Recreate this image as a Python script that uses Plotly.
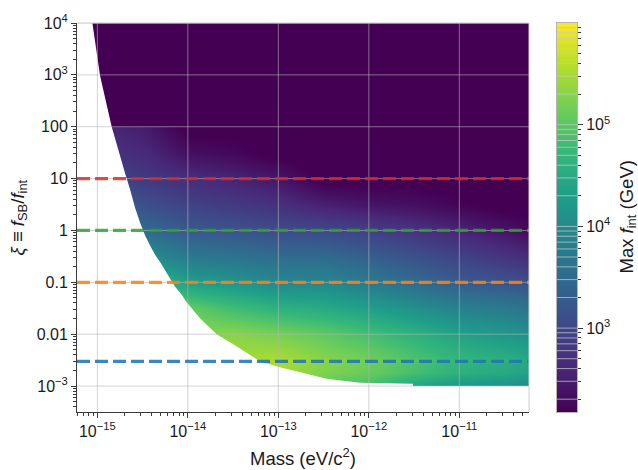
import numpy as np
import plotly.graph_objects as go

# ---------------------------------------------------------------------------
# Tabulated maximum interaction scale, log10(Max f_int / GeV)
# columns: log10(mass / eV), rows: log10(xi)
# ---------------------------------------------------------------------------
log10_mass = [-15.2, -14.8, -14.5, -14.0, -13.5, -13.0, -12.5, -12.0, -11.5, -11.0, -10.5, -10.2]
log10_xi = [-3.0, -2.75, -2.5, -2.0, -1.5, -1.0, -0.5, 0.0, 0.5, 1.0, 1.5, 2.0, 2.01, 4.0]

log10_fmax = [
    [4.85, 4.85, 4.85, 5.24, 5.24, 5.24, 5.01, 4.85, 4.39, 4.16, 4.09, 3.97],
    [4.85, 4.85, 4.85, 5.24, 5.39, 5.46, 5.24, 5.08, 4.85, 4.58, 4.47, 4.36],
    [4.85, 4.85, 4.85, 5.24, 5.46, 5.52, 5.31, 5.16, 4.93, 4.70, 4.58, 4.47],
    [4.85, 4.85, 4.85, 5.27, 5.31, 5.20, 5.04, 4.85, 4.62, 4.36, 4.20, 4.09],
    [4.85, 4.85, 4.85, 5.08, 4.81, 4.62, 4.51, 4.32, 4.09, 3.86, 3.74, 3.63],
    [4.85, 4.85, 4.85, 4.32, 4.16, 3.97, 3.94, 3.74, 3.51, 3.28, 3.17, 3.09],
    [4.09, 4.09, 4.09, 3.71, 3.63, 3.51, 3.48, 3.32, 3.13, 2.94, 2.75, 2.63],
    [3.71, 3.71, 3.48, 3.25, 3.17, 3.06, 3.02, 2.90, 2.75, 2.56, 2.37, 2.25],
    [3.32, 3.32, 3.13, 2.94, 2.83, 2.71, 2.52, 2.40, 2.33, 2.21, 2.10, 2.10],
    [2.94, 2.94, 2.83, 2.67, 2.56, 2.40, 2.10, 2.10, 2.10, 2.10, 2.10, 2.10],
    [2.71, 2.71, 2.63, 2.33, 2.25, 2.10, 2.10, 2.10, 2.10, 2.10, 2.10, 2.10],
    [2.56, 2.56, 2.48, 2.10, 2.10, 2.10, 2.10, 2.10, 2.10, 2.10, 2.10, 2.10],
    [2.10, 2.10, 2.10, 2.10, 2.10, 2.10, 2.10, 2.10, 2.10, 2.10, 2.10, 2.10],
    [2.10, 2.10, 2.10, 2.10, 2.10, 2.10, 2.10, 2.10, 2.10, 2.10, 2.10, 2.10],
]

# Edge of the allowed region (no solution to the left / below)
boundary_mass = [8.81e-16, 1.07e-15, 1.44e-15, 1.78e-15, 2.02e-15, 2.30e-15, 2.61e-15,
                 2.96e-15, 3.37e-15, 3.82e-15, 4.34e-15, 4.93e-15, 5.60e-15, 6.35e-15,
                 7.22e-15, 8.57e-15, 9.55e-15, 1.36e-14, 2.08e-14, 3.18e-14, 4.48e-14,
                 6.28e-14, 1.04e-13, 2.06e-13, 3.43e-13, 8.0e-13, 3.08e-12, 3.08e-12]
boundary_xi = [1e4, 977, 100, 26.5, 12.8, 6.15, 2.75,
               1.43, 0.797, 0.514, 0.340, 0.247, 0.172, 0.119,
               0.0826, 0.0574, 0.0429, 0.0203, 0.00995, 0.00641, 0.00444,
               0.00299, 0.0023, 0.00172, 0.00138, 0.00116, 0.00111, 0.001]

# Benchmark xi = f_SB / f_int values
bench_xi = [10, 1, 0.1, 0.003]
bench_colors = ["rgba(214,39,40,0.82)", "rgba(44,160,44,0.82)",
                "rgba(255,127,14,0.85)", "rgba(31,119,180,0.88)"]

# Axis tick labels
x_tick_exp = [-15, -14, -13, -12, -11]
x_tick_text = ["10<sup>\u221215</sup>", "10<sup>\u221214</sup>", "10<sup>\u221213</sup>",
               "10<sup>\u221212</sup>", "10<sup>\u221211</sup>"]
y_tick_exp = [-3, -2, -1, 0, 1, 2, 3, 4]
y_tick_text = ["10<sup>\u22123</sup>", "0.01", "0.1", "1", "10", "100",
               "10<sup>3</sup>", "10<sup>4</sup>"]
cb_tick_exp = [3, 4, 5]
cb_tick_text = ["10<sup>3</sup>", "10<sup>4</sup>", "10<sup>5</sup>"]

# Ranges (in decades)
X_RANGE = [-15.225, -10.23]
Y_RANGE = [-3.5, 4.0]
Z_RANGE = [2.175, 6.0]

FONT = "Liberation Sans, Arial, Helvetica, sans-serif"
GRID = "rgba(180,180,180,0.6)"
SPINE = "#3a3a3a"


def minor_positions(lo, hi):
    vals = []
    for n in range(int(np.floor(lo)) - 1, int(np.ceil(hi)) + 1):
        for k in range(2, 10):
            v = n + np.log10(k)
            if lo < v < hi:
                vals.append(v)
    return vals


fig = go.Figure()

# main heat map
fig.add_trace(go.Heatmap(
    x=log10_mass, y=log10_xi, z=log10_fmax,
    colorscale="Viridis", zmin=Z_RANGE[0], zmax=Z_RANGE[1],
    zsmooth="best", showscale=False, hoverinfo="skip",
))

# excluded region painted white
bx = list(np.log10(boundary_mass))
by = list(np.log10(boundary_xi))
pad = 0.5
slope = (bx[1] - bx[0]) / (by[1] - by[0])
top_x = bx[0] + slope * (Y_RANGE[1] + pad - by[0])
poly_x = [X_RANGE[0] - pad, top_x] + bx + [X_RANGE[1] + pad, X_RANGE[1] + pad, X_RANGE[0] - pad]
poly_y = [Y_RANGE[1] + pad, Y_RANGE[1] + pad] + by + [by[-1], Y_RANGE[0] - pad, Y_RANGE[0] - pad]
fig.add_trace(go.Scatter(
    x=poly_x, y=poly_y, mode="lines", fill="toself", fillcolor="white",
    line=dict(width=0, color="white"), hoverinfo="skip", showlegend=False,
))

# grid lines drawn over the map
gx, gy = [], []
for u in x_tick_exp:
    gx += [u, u, None]
    gy += [Y_RANGE[0], Y_RANGE[1], None]
for v in y_tick_exp:
    gx += [X_RANGE[0], X_RANGE[1], None]
    gy += [v, v, None]
fig.add_trace(go.Scatter(
    x=gx, y=gy, mode="lines", line=dict(color=GRID, width=1),
    hoverinfo="skip", showlegend=False,
))

# benchmark xi lines
for xi, col in zip(bench_xi, bench_colors):
    fig.add_trace(go.Scatter(
        x=[X_RANGE[0], X_RANGE[1]], y=[np.log10(xi)] * 2, mode="lines",
        line=dict(color=col, width=3.2, dash="13px,5px"),
        hoverinfo="skip", showlegend=False,
    ))

# colour bar as its own strip
levels = np.linspace(Z_RANGE[0], Z_RANGE[1], 300)
fig.add_trace(go.Heatmap(
    x=[0], y=levels, z=[[v] for v in levels],
    colorscale="Viridis", zmin=Z_RANGE[0], zmax=Z_RANGE[1],
    showscale=False, hoverinfo="skip", xaxis="x2", yaxis="y2",
))
cb_lines = sorted(minor_positions(*Z_RANGE) + cb_tick_exp)
cx, cy = [], []
for v in cb_lines:
    cx += [-0.5, 0.5, None]
    cy += [v, v, None]
fig.add_trace(go.Scatter(
    x=cx, y=cy, mode="lines", line=dict(color="rgba(200,200,200,0.75)", width=1),
    hoverinfo="skip", showlegend=False, xaxis="x2", yaxis="y2",
))

W, H = 638, 470
ML, MR, MT, MB = 77, 20, 18, 58
pw = W - ML - MR
plot_right = (529 - ML) / pw
cb_left, cb_right = (557 - ML) / pw, (577 - ML) / pw

tickfont = dict(family=FONT, size=16, color="#1a1a1a")

fig.update_layout(
    width=W, height=H,
    margin=dict(l=ML, r=MR, t=MT, b=MB),
    plot_bgcolor="white", paper_bgcolor="white",
    font=dict(family=FONT, color="#1a1a1a"),
    showlegend=False,
    xaxis=dict(
        domain=[0, plot_right], anchor="y", range=X_RANGE,
        tickmode="array", tickvals=x_tick_exp, ticktext=x_tick_text,
        ticks="outside", ticklen=5, tickwidth=1, tickcolor=SPINE,
        minor=dict(tickmode="array", tickvals=minor_positions(*X_RANGE),
                   ticks="outside", ticklen=3, tickwidth=1, tickcolor=SPINE, showgrid=False),
        showgrid=False, zeroline=False, showline=True, linecolor=SPINE, linewidth=1,
        tickfont=tickfont, fixedrange=True,
    ),
    yaxis=dict(
        domain=[0, 1], anchor="x", range=Y_RANGE,
        tickmode="array", tickvals=y_tick_exp, ticktext=y_tick_text,
        ticks="outside", ticklen=5, tickwidth=1, tickcolor=SPINE,
        minor=dict(tickmode="array", tickvals=minor_positions(*Y_RANGE),
                   ticks="outside", ticklen=3, tickwidth=1, tickcolor=SPINE, showgrid=False),
        showgrid=False, zeroline=False, showline=True, linecolor=SPINE, linewidth=1,
        tickfont=tickfont, fixedrange=True,
    ),
    xaxis2=dict(
        domain=[cb_left, cb_right], anchor="y2", range=[-0.5, 0.5],
        showticklabels=False, ticks="", showgrid=False, zeroline=False,
        showline=True, mirror=True, linecolor="#b5b5b5", linewidth=1, fixedrange=True,
    ),
    yaxis2=dict(
        domain=[0, 1], anchor="x2", side="right", range=Z_RANGE,
        tickmode="array", tickvals=cb_tick_exp, ticktext=cb_tick_text,
        ticks="outside", ticklen=5, tickwidth=1, tickcolor=SPINE,
        minor=dict(tickmode="array", tickvals=minor_positions(*Z_RANGE),
                   ticks="outside", ticklen=3, tickwidth=1, tickcolor=SPINE, showgrid=False),
        showgrid=False, zeroline=False, showline=True, mirror=True,
        linecolor="#b5b5b5", linewidth=1, tickfont=tickfont, fixedrange=True,
    ),
    shapes=[
        dict(type="line", xref="paper", yref="paper", x0=0, x1=plot_right, y0=1, y1=1,
             line=dict(color="#cfcfcf", width=1), layer="above"),
        dict(type="line", xref="paper", yref="paper", x0=plot_right, x1=plot_right, y0=0, y1=1,
             line=dict(color="#cfcfcf", width=1), layer="above"),
    ],
    annotations=[
        dict(text="Mass (eV/c<sup>2</sup>)", xref="paper", yref="paper",
             x=plot_right / 2, y=(0 - 46) / (H - MT - MB), xanchor="center", yanchor="middle",
             showarrow=False, font=dict(family=FONT, size=18.5, color="#1a1a1a")),
        dict(text="<i>\u03be</i> \u2261 <i>f</i><sub>SB</sub>/<i>f</i><sub>int</sub>",
             xref="paper", yref="paper", x=(18 - ML) / pw, y=0.5, textangle=-90,
             xanchor="center", yanchor="middle", showarrow=False,
             font=dict(family=FONT, size=18.5, color="#1a1a1a")),
        dict(text="Max <i>f</i><sub>int</sub> (GeV)", xref="paper", yref="paper",
             x=(627 - ML) / pw, y=0.5, textangle=-90, xanchor="center", yanchor="middle",
             showarrow=False, font=dict(family=FONT, size=18.5, color="#1a1a1a")),
    ],
)

fig.write_html("out.html")
